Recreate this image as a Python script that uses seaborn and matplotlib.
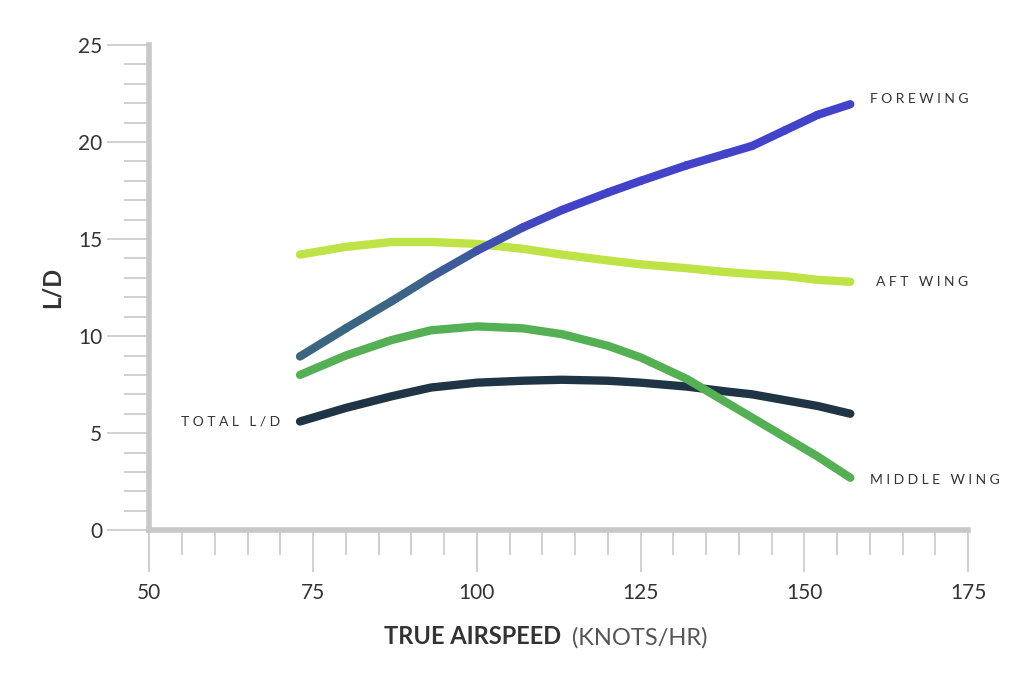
import matplotlib
matplotlib.use("Agg")
import matplotlib.pyplot as plt
import seaborn as sns
import numpy as np
import pandas as pd
from matplotlib.ticker import MultipleLocator

speed = [73, 80, 87, 93, 100, 107, 113, 120, 125, 132, 138, 142, 147, 152, 157]
forewing = [8.95, 10.4, 11.8, 13.05, 14.4, 15.6, 16.5, 17.4, 18.0, 18.8, 19.4, 19.8, 20.6, 21.4, 21.95]
aft_wing = [14.2, 14.6, 14.85, 14.85, 14.75, 14.5, 14.2, 13.9, 13.7, 13.5, 13.3, 13.2, 13.1, 12.9, 12.8]
middle_wing = [8.0, 9.0, 9.8, 10.3, 10.5, 10.4, 10.1, 9.5, 8.9, 7.8, 6.6, 5.8, 4.8, 3.8, 2.7]
total_ld = [5.6, 6.3, 6.9, 7.35, 7.6, 7.7, 7.75, 7.7, 7.6, 7.4, 7.15, 7.0, 6.7, 6.4, 6.0]

df = pd.DataFrame({"speed": speed, "FOREWING": forewing, "AFT WING": aft_wing,
                   "MIDDLE WING": middle_wing, "TOTAL L/D": total_ld})

sns.set_style("ticks")
plt.rcParams['font.family'] = ['Lato', 'DejaVu Sans']
fig, ax = plt.subplots(figsize=(10.30, 6.93), dpi=100)
fig.subplots_adjust(left=0.145, right=0.94, top=0.935, bottom=0.235)

sns.lineplot(data=df, x="speed", y="TOTAL L/D", ax=ax, color="#1f3545", lw=6, solid_capstyle="round")
sns.lineplot(data=df, x="speed", y="MIDDLE WING", ax=ax, color="#55b055", lw=6, solid_capstyle="round")
sns.lineplot(data=df, x="speed", y="AFT WING", ax=ax, color="#bde346", lw=6, solid_capstyle="round")
c0 = np.array(matplotlib.colors.to_rgb("#3b6682"))
c1 = np.array(matplotlib.colors.to_rgb("#4343c9"))
for i in range(len(speed) - 1):
    t = min(1.0, max(0.0, (speed[i] - 85) / 25))
    col = c0 * (1 - t) + c1 * t
    ax.plot(speed[i:i+2], forewing[i:i+2], color=col, lw=6, solid_capstyle="round")

lab = dict(fontsize=10, color="#333333")
ax.text(160, 22.2, "F O R E W I N G", va="center", ha="left", **lab)
ax.text(161, 12.8, "A F T   W I N G", va="center", ha="left", **lab)
ax.text(160, 2.6, "M I D D L E   W I N G", va="center", ha="left", **lab)
ax.text(70, 5.6, "T O T A L   L / D", va="center", ha="right", **lab)

ax.set_xlim(50, 175)
ax.set_ylim(0, 25)
ax.xaxis.set_major_locator(MultipleLocator(25))
ax.xaxis.set_minor_locator(MultipleLocator(5))
ax.yaxis.set_major_locator(MultipleLocator(5))
ax.yaxis.set_minor_locator(MultipleLocator(1))
for s in ["top", "right"]:
    ax.spines[s].set_visible(False)
for s in ["left", "bottom"]:
    ax.spines[s].set_color("#c8c8c8")
    ax.spines[s].set_linewidth(4)
ax.tick_params(which="both", bottom=True, left=True, direction="out")
ax.tick_params(which="major", length=30, width=1.2, color="#c8c8c8", labelsize=15, labelcolor="#333333", pad=4)
ax.tick_params(which="minor", length=18, width=1.2, color="#c8c8c8")
ax.tick_params(axis="x", pad=8)
ax.set_xlabel("")
ax.set_ylabel("L/D", fontsize=17, fontweight="bold", color="#333333", labelpad=10)
fig.text(0.545, 0.07, "TRUE AIRSPEED", fontsize=17, fontweight="bold", color="#333333", ha="right")
fig.text(0.555, 0.07, "(KNOTS/HR)", fontsize=17, color="#555555", ha="left")
fig.savefig("out.png", dpi=100)
